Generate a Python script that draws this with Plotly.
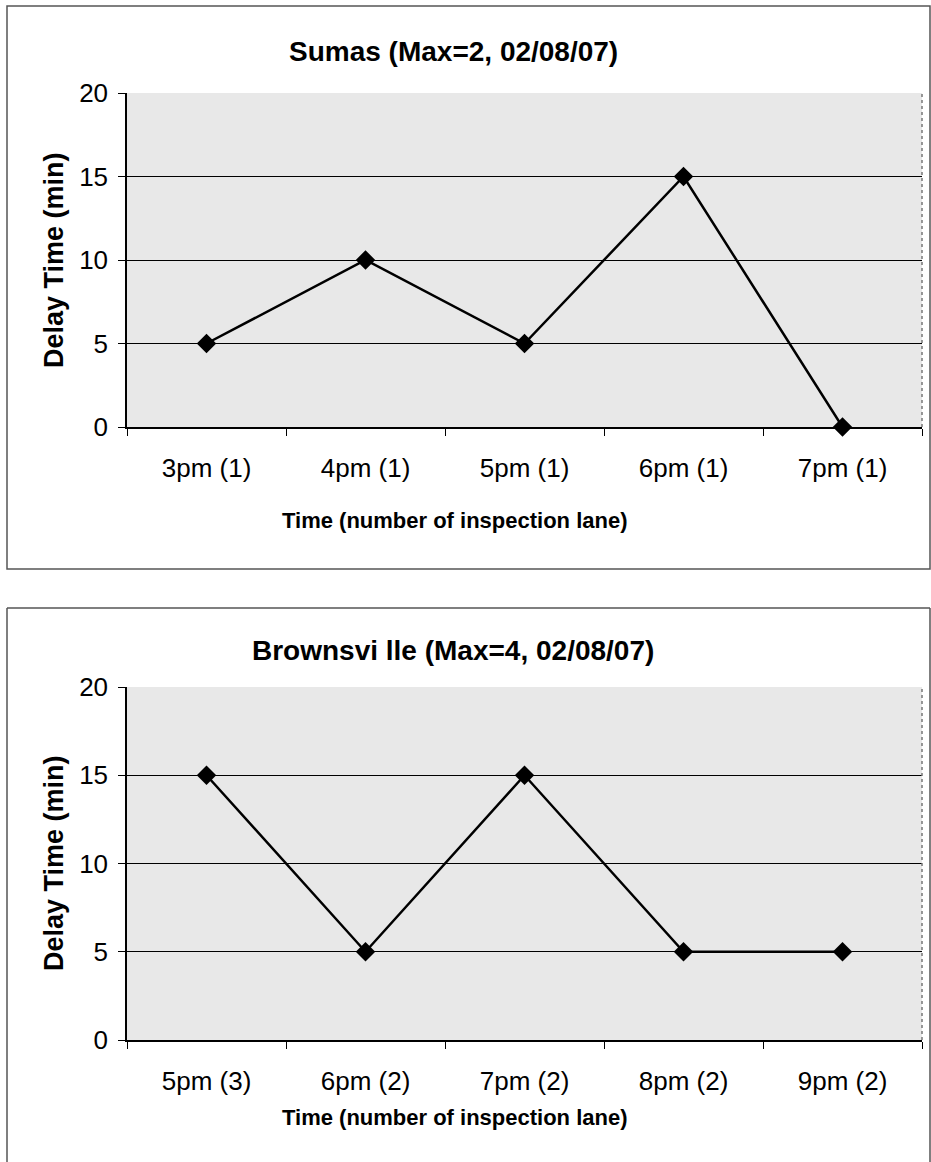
import plotly.graph_objects as go

# Page size in pixels
W, H = 931, 1162

# Sumas crossing
sumas_times = ["3pm (1)", "4pm (1)", "5pm (1)", "6pm (1)", "7pm (1)"]
sumas_delay = [5, 10, 5, 15, 0]

# Brownsville crossing
brownsville_times = ["5pm (3)", "6pm (2)", "7pm (2)", "8pm (2)", "9pm (2)"]
brownsville_delay = [15, 5, 15, 5, 5]

y_ticks = [0, 5, 10, 15, 20]

FONT = "Liberation Sans, Arial, sans-serif"


def px_x(x):
    return x / W


def px_y(y):
    return 1 - y / H


fig = go.Figure()

for times, delay, xa, ya in [(sumas_times, sumas_delay, "x", "y"),
                             (brownsville_times, brownsville_delay, "x2", "y2")]:
    fig.add_trace(go.Scatter(
        x=times, y=delay, xaxis=xa, yaxis=ya,
        mode="lines+markers",
        line=dict(color="black", width=2.5),
        marker=dict(symbol="diamond", size=15, color="black"),
        showlegend=False, cliponaxis=False,
    ))

x_dom = [px_x(127), px_x(922)]
top_dom = [px_y(427), px_y(93)]
bot_dom = [px_y(1040), px_y(687)]

xaxis_style = dict(
    type="category", domain=x_dom, range=[-0.5, 4.5],
    showline=True, linecolor="black", linewidth=1.5,
    ticks="outside", tickson="boundaries", ticklen=7, tickcolor="black",
    showgrid=False, zeroline=False, automargin=False,
    tickfont=dict(family=FONT, size=26, color="black"),
    ticklabelstandoff=17,
)
yaxis_style = dict(
    range=[0, 20], tickvals=y_ticks,
    showline=True, linecolor="black", linewidth=1.5,
    ticks="outside", ticklen=7, tickcolor="black",
    showgrid=True, gridcolor="black", gridwidth=1.2,
    zeroline=False, automargin=False,
    tickfont=dict(family=FONT, size=26, color="black"),
    ticklabelstandoff=5,
)

fig.update_layout(
    width=W, height=H,
    margin=dict(l=0, r=0, t=0, b=0, pad=0, autoexpand=False),
    paper_bgcolor="white",
    plot_bgcolor="#e8e8e8",
    xaxis=dict(**xaxis_style, anchor="y", categoryarray=sumas_times),
    yaxis=dict(**yaxis_style, domain=top_dom, anchor="x"),
    xaxis2=dict(**xaxis_style, anchor="y2", categoryarray=brownsville_times),
    yaxis2=dict(**yaxis_style, domain=bot_dom, anchor="x2"),
)

frame = dict(color="#555555", width=1.5)
shapes = [
    # Upper chart frame
    dict(type="rect", xref="paper", yref="paper",
         x0=px_x(7), x1=px_x(930), y0=px_y(569), y1=px_y(6), line=frame),
    # Lower chart frame (runs off the bottom of the page)
    dict(type="line", xref="paper", yref="paper",
         x0=px_x(7), x1=px_x(930), y0=px_y(608), y1=px_y(608), line=frame),
    dict(type="line", xref="paper", yref="paper",
         x0=px_x(7), x1=px_x(7), y0=0, y1=px_y(608), line=frame),
    dict(type="line", xref="paper", yref="paper",
         x0=px_x(930), x1=px_x(930), y0=0, y1=px_y(608), line=frame),
]
# Right edge of each plot area
for dom in (top_dom, bot_dom):
    shapes.append(dict(type="line", xref="paper", yref="paper",
                       x0=x_dom[1], x1=x_dom[1], y0=dom[0], y1=dom[1],
                       line=dict(color="#777777", width=1.5, dash="dot")))
fig.update_layout(shapes=shapes)

annotations = []
titles = [
    ("Sumas (Max=2, 02/08/07)", 52, 260, 520),
    ("Brownsvi lle (Max=4, 02/08/07)", 650, 863, 1117),
]
for text, ty, ymid, xty in titles:
    annotations.append(dict(text=f"<b>{text}</b>", xref="paper", yref="paper",
                            x=px_x(453), y=px_y(ty), showarrow=False,
                            xanchor="center", yanchor="middle",
                            font=dict(family=FONT, size=28, color="black")))
    annotations.append(dict(text="<b>Delay Time (min)</b>", xref="paper", yref="paper",
                            x=px_x(54), y=px_y(ymid), showarrow=False, textangle=-90,
                            xanchor="center", yanchor="middle",
                            font=dict(family=FONT, size=27, color="black")))
    annotations.append(dict(text="<b>Time (number of inspection lane)</b>", xref="paper", yref="paper",
                            x=px_x(455), y=px_y(xty), showarrow=False,
                            xanchor="center", yanchor="middle",
                            font=dict(family=FONT, size=22, color="black")))
fig.update_layout(annotations=annotations)

fig.write_html("out.html")
